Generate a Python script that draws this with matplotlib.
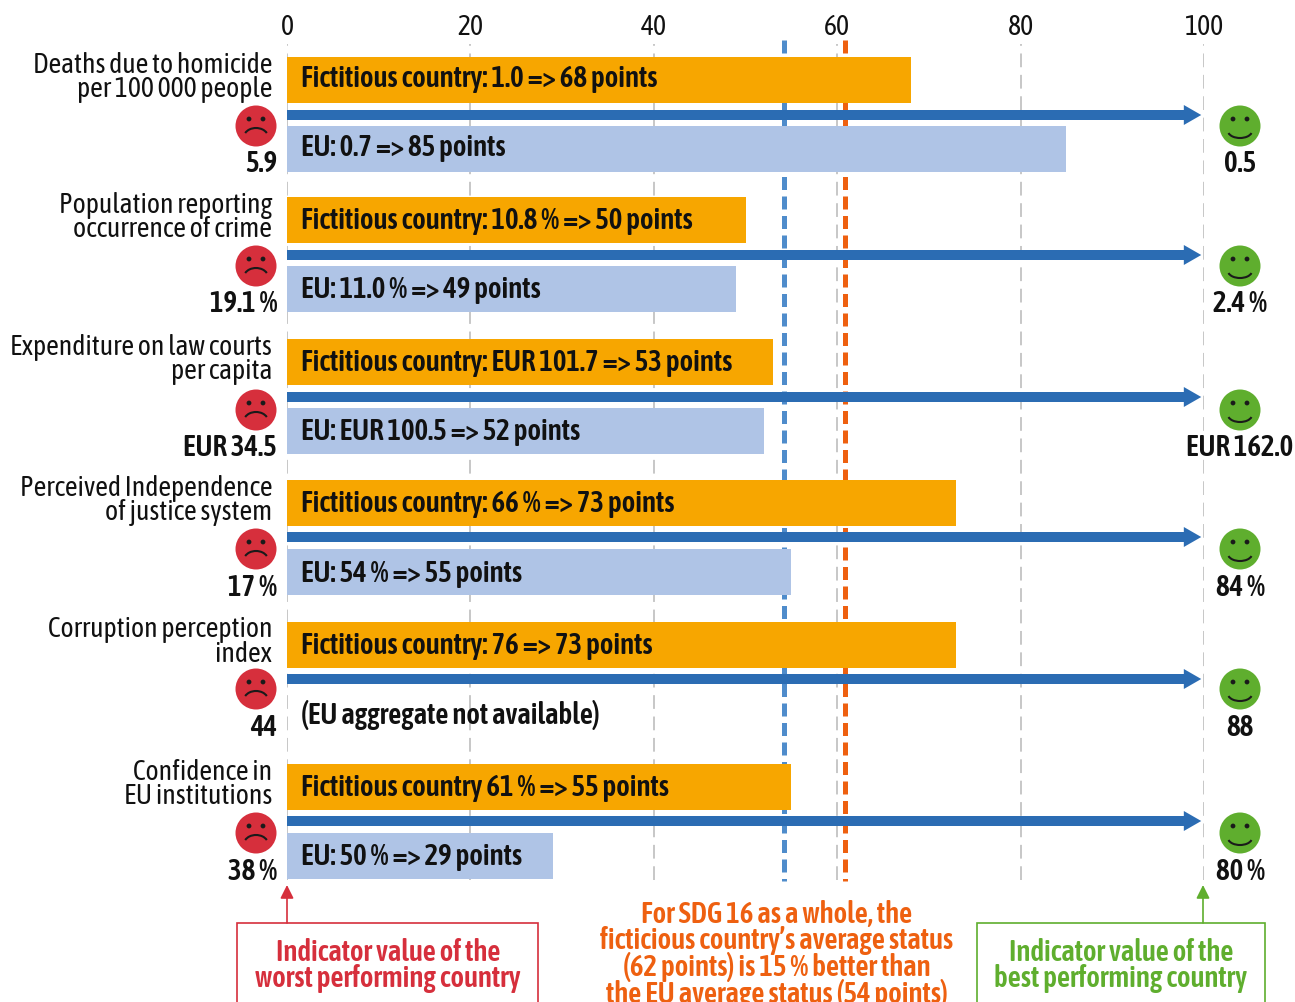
import matplotlib
matplotlib.use('Agg')
import matplotlib.pyplot as plt
from matplotlib.patches import Circle, Arc, FancyArrow, Rectangle

# Distance-to-target scores for the SDG 16 indicators
indicators = ['Deaths due to homicide\nper 100 000 people',
              'Population reporting\noccurrence of crime',
              'Expenditure on law courts\nper capita',
              'Perceived Independence\nof justice system',
              'Corruption perception\nindex',
              'Confidence in\nEU institutions']
country_points = [68, 50, 53, 73, 73, 55]
country_labels = ['Fictitious country: 1.0 => 68 points',
                  'Fictitious country: 10.8 % => 50 points',
                  'Fictitious country: EUR 101.7 => 53 points',
                  'Fictitious country: 66 % => 73 points',
                  'Fictitious country: 76 => 73 points',
                  'Fictitious country 61 % => 55 points']
eu_points = [85, 49, 52, 55, None, 29]
eu_labels = ['EU: 0.7 => 85 points', 'EU: 11.0 % => 49 points',
             'EU: EUR 100.5 => 52 points', 'EU: 54 % => 55 points',
             '(EU aggregate not available)', 'EU: 50 % => 29 points']
worst_values = ['5.9', '19.1 %', 'EUR 34.5', '17 %', '44', '38 %']
best_values = ['0.5', '2.4 %', 'EUR 162.0', '84 %', '88', '80 %']
eu_average = 54.2
country_average = 60.9
x_ticks = [0, 20, 40, 60, 80, 100]
summary_note = ('For SDG 16 as a whole, the\n'
                'ficticious country\u2019s average status\n'
                '(62 points) is 15 % better than\n'
                'the EU average status (54 points)')

# Pixel rows of each indicator block
bar_tops = [57, 197, 339, 480, 622, 764]
arrow_rows = [115, 255, 397, 537, 679, 821]
eu_tops = [126, 266, 408, 549, 691, 833]
face_rows = [126, 266, 410, 549, 689, 833]
value_rows = [163, 304, 448, 587, 727, 871]
label_rows = [77.5, 217.5, 359.5, 500.5, 642, 784.5]
country_text_rows = [78.5, 220.5, 362.5, 503.5, 645.5, 787.5]
eu_text_rows = [147.5, 289.5, 431.5, 573.5, 714.5, 856.5]

ORANGE = '#f7a600'
LIGHT = '#afc4e6'
BLUE = '#2b6cb3'
DASH_BLUE = '#4f8ccb'
DASH_ORANGE = '#ee6010'
GREY = '#b8b8b8'
RED = '#d62f3c'
GREEN = '#5fae2e'
INK = '#111111'
BAR_H = 46

plt.rcParams['font.family'] = ['Asap Condensed', 'Open Sans', 'DejaVu Sans']
W, H = 1295, 1002
fig = plt.figure(figsize=(W / 100, H / 100), dpi=100, facecolor='white')

# Main axes: x runs on the 0-100 score scale, y counts pixels downward
left, right, top, bottom = 287, 1204, 44, 880
ax = fig.add_axes([left / W, 1 - bottom / H, (right - left) / W, (bottom - top) / H])
ax.set_xlim(0, 100)
ax.set_ylim(bottom, top)
for s in ax.spines.values():
    s.set_visible(False)
ax.xaxis.tick_top()
ax.set_xticks(x_ticks)
ax.set_yticks([])
ax.tick_params(axis='x', length=0, pad=2.5, labelsize=20, labelcolor=INK)
ax.grid(axis='x', color=GREY, lw=1.1, dashes=(9, 5))
ax.set_axisbelow(True)

for value, colour in ((eu_average, DASH_BLUE), (country_average, DASH_ORANGE)):
    ax.plot([value, value], [40, 881], color=colour, lw=3.6, dashes=(2.6, 1.3),
            zorder=1, clip_on=False, solid_capstyle='butt', dash_capstyle='butt')

ax.barh([t + BAR_H / 2 for t in bar_tops], country_points, height=BAR_H, color=ORANGE, zorder=2)
for v, t in zip(eu_points, eu_tops):
    if v is not None:
        ax.barh(t + BAR_H / 2, v, height=BAR_H, color=LIGHT, zorder=2)
for y in arrow_rows:
    ax.add_patch(FancyArrow(0, y, 99.7, 0, width=10, head_width=20, head_length=1.9,
                            length_includes_head=True, color=BLUE, lw=0, zorder=3))

# Overlay in pixel coordinates for faces, notes and captions
ov = fig.add_axes([0, 0, 1, 1], zorder=5)
ov.set_xlim(0, W)
ov.set_ylim(H, 0)
ov.axis('off')


def face(cx, cy, color, happy):
    """Round emoticon with two eyes and a curved mouth."""
    ov.add_patch(Circle((cx, cy), 20.5, color=color, lw=0))
    for dx in (-7, 7):
        ov.add_patch(Circle((cx + dx, cy - 7), 2.4, color='#1a1a1a', lw=0))
    if happy:
        ov.add_patch(Arc((cx, cy + 5), 24, 14, theta1=10, theta2=170, color='#1a1a1a', lw=1.5))
    else:
        ov.add_patch(Arc((cx, cy + 11), 24, 18, theta1=200, theta2=340, color='#1a1a1a', lw=1.5))


TXT = 20
BOLD = 20.8
for i in range(6):
    ov.text(272, label_rows[i], indicators[i], ha='right', va='center', fontsize=TXT,
            linespacing=0.88, color=INK)
    ov.text(301, country_text_rows[i], country_labels[i], ha='left', va='center',
            fontsize=BOLD, fontweight='semibold', color=INK)
    ov.text(301, eu_text_rows[i], eu_labels[i], ha='left',
            va='center', fontsize=BOLD, fontweight='semibold', color=INK)
    face(256, face_rows[i], RED, False)
    face(1240, face_rows[i], GREEN, True)
    ov.text(277, value_rows[i], worst_values[i], ha='right', va='center', fontsize=BOLD,
            fontweight='semibold', color=INK)
    ov.text(1240, value_rows[i], best_values[i], ha='center', va='center', fontsize=BOLD,
            fontweight='semibold', color=INK)

# Caption boxes run off the bottom edge of the figure
ov.add_patch(Rectangle((237, 923), 301, 100, fc='white', ec=RED, lw=1.2, clip_on=True))
ov.add_patch(Rectangle((977, 923), 288, 100, fc='white', ec=GREEN, lw=1.2, clip_on=True))
ov.annotate('', xy=(287, 885), xytext=(287, 923),
            arrowprops=dict(arrowstyle='-|>', color=RED, lw=1.2, mutation_scale=20, shrinkA=0, shrinkB=0))
ov.annotate('', xy=(1203, 885), xytext=(1203, 923),
            arrowprops=dict(arrowstyle='-|>', color=GREEN, lw=1.2, mutation_scale=20, shrinkA=0, shrinkB=0))
ov.text(388, 965.5, 'Indicator value of the\nworst performing country', ha='center', va='center',
        fontsize=BOLD, fontweight='semibold', color=RED, linespacing=0.9)
ov.text(1121, 965.5, 'Indicator value of the\nbest performing country', ha='center', va='center',
        fontsize=BOLD, fontweight='semibold', color=GREEN, linespacing=0.9)
ov.text(777, 954.5, summary_note, ha='center', va='center', fontsize=BOLD, fontweight='semibold',
        color=DASH_ORANGE, linespacing=0.88, clip_on=True)

fig.savefig('out.png', dpi=100)
